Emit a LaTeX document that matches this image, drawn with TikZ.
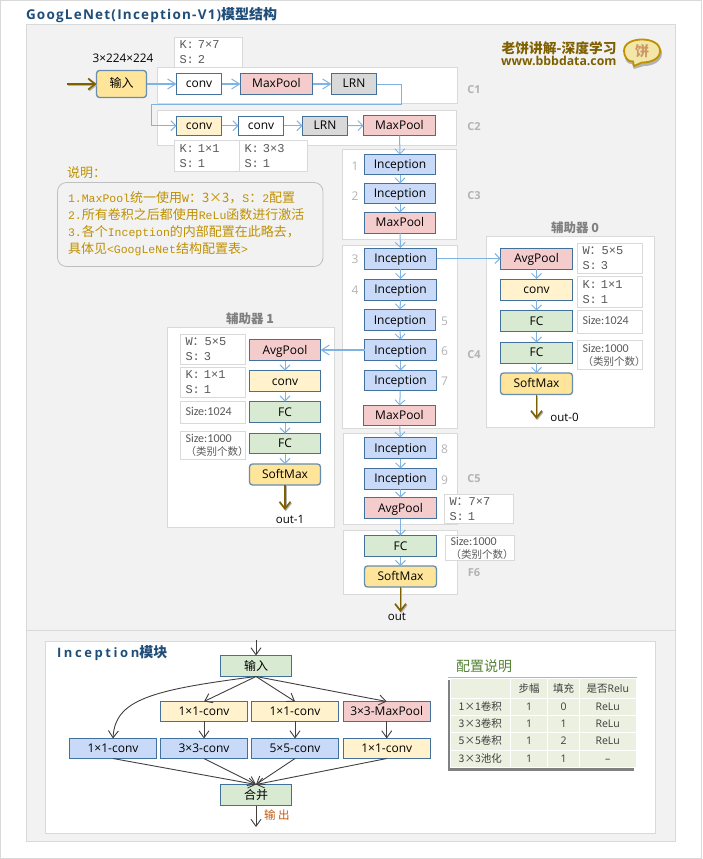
\documentclass[tikz,border=0pt]{standalone}
\usepackage{fontspec}
\usetikzlibrary{arrows.meta,calc}
\setmainfont{Open Sans}
\newfontfamily\cjk{Noto Sans CJK SC}
\newfontfamily\mon{Liberation Mono}
\newfontfamily\crl{Carlito}
\newfontfamily\ttl[LetterSpace=9]{Open Sans}
\newfontfamily\ttlb[LetterSpace=20]{Open Sans}
\newcommand{\fz}[1]{\fontsize{#1}{#1}\selectfont}
\newcommand{\fzb}[2]{\fontsize{#1}{#2}\selectfont}
\newcommand{\bx}[7]{%
  \pgfmathsetmacro\bxw{#5-#3}\pgfmathsetmacro\bxh{#6-#4}%
  \pgfmathsetmacro\bxt{#5-#3-10}%
  \pgfmathsetmacro\bxx{(#3+#5)/2}\pgfmathsetmacro\bxy{(#4+#6)/2}%
  \node[#2,minimum width=\bxw pt,minimum height=\bxh pt] (#1) at (\bxx,\bxy) {#7};}
\definecolor{bord}{HTML}{41719C}
\definecolor{lineb}{HTML}{7FB3E3}
\definecolor{pan}{HTML}{D9D9D9}
\definecolor{bgg}{HTML}{F2F2F2}
\definecolor{brown}{HTML}{7F6000}
\definecolor{gold}{HTML}{BF9000}
\definecolor{navy}{HTML}{1F4E79}
\definecolor{ptxt}{HTML}{595959}
\definecolor{clab}{HTML}{B3B3B3}
\definecolor{dk}{HTML}{404040}
\definecolor{ffy}{HTML}{FFF2CC}
\definecolor{ffp}{HTML}{F4CCCC}
\definecolor{ffg}{HTML}{D9EAD3}
\definecolor{ffb}{HTML}{C9DAF8}
\definecolor{ffd}{HTML}{D9D9D9}
\definecolor{ffs}{HTML}{FFE599}
\definecolor{tcf}{HTML}{EBF0E0}
\definecolor{orng}{HTML}{C55A11}
\definecolor{grn}{HTML}{548235}
\definecolor{ffl}{HTML}{F2E6A8}
\definecolor{cakec}{HTML}{CC9966}
\tikzset{
 base/.style={inner sep=0pt,outer sep=0pt},
 panel/.style={base,draw=pan,fill=white,line width=.8pt},
 bgpanel/.style={base,draw=pan,fill=bgg,line width=.8pt},
 blk/.style={base,draw=bord,line width=.9pt,text=black,font=\fz{12},text height=10pt,text depth=2pt},
 wbk/.style={blk,fill=white},
 ybk/.style={blk,fill=ffy},
 pbk/.style={blk,fill=ffp},
 gbk/.style={blk,fill=ffg},
 bbk/.style={blk,fill=ffb},
 dbk/.style={blk,fill=ffd},
 sbk/.style={blk,fill=ffs,rounded corners=3pt,line width=1.3pt,draw=bord!80},
 kbox/.style={base,draw=pan,fill=white,line width=.8pt,align=left,text width=\bxt pt,text=ptxt,font=\mon\fzb{12}{13},execute at begin node={\vspace*{2pt}}},
 sbox/.style={kbox,font=\crl\fzb{12}{11},execute at begin node={}},
 lab/.style={base,text=clab,font=\bfseries\fz{11}},
 lnum/.style={base,text=clab,font=\fz{12}},
 conn/.style={draw=lineb,line width=1pt,-{Straight Barb[length=5pt,width=10pt,line width=.9pt]}},
 conb/.style={conn,line width=1.4pt,-{Straight Barb[length=8pt,width=10pt,line width=1pt]}},
 heavy/.style={draw=brown,line width=1.6pt,-{Straight Barb[length=7pt,width=11pt,line width=1.6pt]},
   preaction={draw=black!30,line width=1.6pt,transform canvas={xshift=.8pt,yshift=-1.2pt}}},
 dkc/.style={draw=dk,line width=.9pt,-{Straight Barb[length=7pt,width=10pt,line width=.9pt]}},
 tcell/.style={base,fill=tcf,draw=white,line width=.8pt,text=ptxt!70!black,font=\fz{10.5},text height=9pt,text depth=2pt},
}
\begin{document}
\begin{tikzpicture}[x=1pt,y=-1pt]
\path[use as bounding box] (0,0) rectangle (702,859);
\bx{frame}{base,draw=pan,fill=white,line width=1pt}{.5}{.5}{701.5}{858}{}
\bx{upper}{bgpanel}{26}{24.5}{675.5}{630.5}{}
\bx{lower}{bgpanel}{26}{630.5}{675.5}{841.5}{}
\node[base,anchor=west,text=navy,font=\ttl\bfseries\fz{13.5}] (title) at (26,15) {GoogLeNet(Inception-V1){\cjk\bfseries\fz{14}模型结构}};
% stage panels
\bx{pc1}{panel}{157.5}{67.5}{457.5}{103.5}{}
\bx{pc2}{panel}{157.5}{110.5}{456.5}{145.5}{}
\bx{pc3}{panel}{342.5}{149.5}{456.5}{239.5}{}
\bx{pc4}{panel}{342.5}{245.5}{457.5}{428.5}{}
\bx{pc5}{panel}{343.5}{433.5}{457.5}{524.5}{}
\bx{pf6}{panel}{343.5}{530.5}{457.5}{594.5}{}
\bx{pa0}{panel}{486.5}{236.5}{654.5}{427.5}{}
\bx{pa1}{panel}{167.5}{327.5}{334}{527.5}{}
% parameter boxes
\bx{k77}{kbox}{174.5}{37.5}{242.5}{67.5}{K: 7×7\\S: 2}
\bx{k11}{kbox}{174.5}{140.5}{239.5}{171.5}{K: 1×1\\S: 1}
\bx{k33}{kbox}{239.5}{140.5}{307.5}{171.5}{K: 3×3\\S: 1}
\bx{w77}{kbox}{444.5}{494.5}{513.5}{523.5}{W{\cjk ：}7×7\\S: 1}
\bx{sf6}{sbox}{445.5}{535.5}{514.5}{560.5}{Size:1000\\{\cjk\fz{10.5}（类别个数）}}
\bx{a1w}{kbox}{180.5}{334.5}{245.5}{364.5}{W{\cjk ：}5×5\\S: 3}
\bx{a1k}{kbox}{180.5}{367.5}{245.5}{397.5}{K: 1×1\\S: 1}
\bx{a1s}{sbox}{180.5}{401.5}{245.5}{423.5}{Size:1024}
\bx{a1t}{sbox}{180.5}{431.5}{245.5}{459.5}{Size:1000\\{\cjk\fz{10.5}（类别个数）}}
\bx{a0w}{kbox}{577.5}{243.5}{642.5}{273.5}{W{\cjk ：}5×5\\S: 3}
\bx{a0k}{kbox}{577.5}{276.5}{642.5}{307}{K: 1×1\\S: 1}
\bx{a0s}{sbox}{577.5}{310.5}{642.5}{333}{Size:1024}
\bx{a0t}{sbox}{577.5}{340.5}{642.5}{369.5}{Size:1000\\{\cjk\fz{10.5}（类别个数）}}
% main blocks
\bx{in}{sbk}{96.5}{70.5}{146.5}{97.5}{\cjk 输入}
\node[base,font=\fz{11.8}] (dims) at (123,58) {3×224×224};
\coordinate (instart) at (67,84);
\bx{c1a}{wbk}{176.5}{73.5}{221.5}{94.5}{conv}
\bx{c1b}{pbk}{240.5}{73.5}{312.5}{94.5}{MaxPool}
\bx{c1c}{dbk}{331.5}{73.5}{376.5}{94.5}{LRN}
\bx{c2a}{ybk}{176.5}{116}{221.5}{135.5}{conv}
\bx{c2b}{wbk}{238.5}{116}{283.5}{135.5}{conv}
\bx{c2c}{dbk}{302.5}{116}{347.5}{135.5}{LRN}
\bx{c2d}{pbk}{363.5}{115.5}{435.5}{135.5}{MaxPool}
\bx{i1}{bbk}{364.5}{154.5}{435.5}{174.5}{Inception}
\bx{i2}{bbk}{364.5}{183.5}{435.5}{203.5}{Inception}
\bx{m3}{pbk}{364.5}{212.5}{435.5}{233}{MaxPool}
\bx{i3}{bbk}{364.5}{248}{436.5}{269}{Inception}
\bx{i4}{bbk}{364.5}{279}{436.5}{300}{Inception}
\bx{i5}{bbk}{364.5}{309.5}{435.5}{330.5}{Inception}
\bx{i6}{bbk}{364.5}{339.5}{436.5}{360.5}{Inception}
\bx{i7}{bbk}{364.5}{370.5}{436.5}{390.5}{Inception}
\bx{m4}{pbk}{363.5}{405.5}{435.5}{425.5}{MaxPool}
\bx{i8}{bbk}{364.5}{437.5}{436.5}{458.5}{Inception}
\bx{i9}{bbk}{364.5}{468.5}{436.5}{489}{Inception}
\bx{av}{pbk}{364.5}{497.5}{436.5}{518.5}{AvgPool}
\bx{fc}{gbk}{364.5}{535.5}{436.5}{556.5}{FC}
\bx{sm}{sbk}{364.5}{566}{436.5}{587}{SoftMax}
\node[base,font=\fz{11.5}] (out) at (397,617) {out};
% aux 0
\bx{a0a}{pbk}{500.5}{248}{572.5}{269}{AvgPool}
\bx{a0b}{ybk}{500.5}{279}{572.5}{300}{conv}
\bx{a0c}{gbk}{500.5}{310.5}{572.5}{331.5}{FC}
\bx{a0d}{gbk}{500.5}{342.5}{572.5}{363}{FC}
\bx{a0e}{sbk}{500.5}{373}{572.5}{394.5}{SoftMax}
\node[base,font=\fz{11.5}] (o0) at (564.5,417) {out-0};
% aux 1
\bx{a1a}{pbk}{249.5}{339.5}{320.5}{360.5}{AvgPool}
\bx{a1b}{ybk}{249.5}{370.5}{320.5}{391.5}{conv}
\bx{a1c}{gbk}{249.5}{401.5}{320.5}{422.5}{FC}
\bx{a1d}{gbk}{249.5}{433.5}{320.5}{453.5}{FC}
\bx{a1e}{sbk}{249.5}{464}{320.5}{485}{SoftMax}
\node[base,font=\fz{11.5}] (o1) at (290,519) {out-1};
% connectors
\draw[heavy] (instart) -- (in.west|-instart);
\draw[conb] (in.east|-c1a) -- (c1a.west);
\draw[conb] (c1a) -- (c1b);
\draw[conb] (c1b) -- (c1c);
\draw[conn] (c1c.east) -| (401.5,104.5) -| (151,125.75) -- (c2a.west);
\draw[conn] (c2a) -- (c2b);
\draw[conn] (c2b) -- (c2c);
\draw[conn] (c2c.east) -- (c2d.west);
\draw[conn] (c2d) -- (i1);
\draw[conn] (i1) -- (i2);
\draw[conn] (i2) -- (m3);
\draw[conn] (m3) -- (i3);
\draw[conn] (i3) -- (i4);
\draw[conn] (i4) -- (i5);
\draw[conn] (i5) -- (i6);
\draw[conn] (i6) -- (i7);
\draw[conn] (i7) -- (m4);
\draw[conn] (m4) -- (i8);
\draw[conn] (i8) -- (i9);
\draw[conn] (i9) -- (av);
\draw[conn] (av) -- (fc);
\draw[conn] (fc) -- (sm);
\draw[conn] (i3.east) -- (a0a.west);
\draw[conn] (a0a) -- (a0b);
\draw[conn] (a0b) -- (a0c);
\draw[conn] (a0c) -- (a0d);
\draw[conn] (a0d) -- (a0e);
\draw[conb] (i6.west) -- (a1a.east);
\draw[conn] (a1a) -- (a1b);
\draw[conn] (a1b) -- (a1c);
\draw[conn] (a1c) -- (a1d);
\draw[conn] (a1d) -- (a1e);
\coordinate (oe) at (400.5,612);
\coordinate (oe0) at (536.5,419);
\coordinate (oe1) at (285,510);
\draw[heavy] (sm.south) -- (oe);
\draw[heavy] (a0e.south) -- (oe0);
\draw[heavy] (a1e.south) -- (oe1);
% stage labels
\node[lab] (lc1) at (474,89.5) {C1};
\node[lab] (lc2) at (474,127) {C2};
\node[lab] (lc3) at (474,196) {C3};
\node[lab] (lc4) at (474,355) {C4};
\node[lab] (lc5) at (474,479) {C5};
\node[lab] (lf6) at (474,573) {F6};
\node[lnum] (n1) at (355,166) {1};
\node[lnum] (n2) at (355,196) {2};
\node[lnum] (n3) at (355,259) {3};
\node[lnum] (n4) at (355,290) {4};
\node[lnum] (n5) at (444.5,321) {5};
\node[lnum] (n6) at (444.5,351) {6};
\node[lnum] (n7) at (444.5,381) {7};
\node[lnum] (n8) at (444.5,449) {8};
\node[lnum] (n9) at (444.5,480) {9};
\node[base,text=black!50,font=\cjk\bfseries\fz{12.5}] (t0) at (575,228) {辅助器 0};
\node[base,text=black!50,font=\cjk\bfseries\fz{12.5}] (t1) at (250,319) {辅助器 1};
% note
\node[base,text=gold,font=\cjk\fz{13},anchor=west] (nt) at (67,172.5) {说明：};
\bx{note}{base,draw=black!25,fill=bgg,line width=.8pt,rounded corners=9pt}{57.5}{182.5}{323}{266.5}{}
\begin{scope}[every node/.style={base,anchor=west,text=gold,font=\mon\fz{11.5}}]
\node (n1l) at (68,197.5) {1.MaxPool{\cjk\fz{13}统一使用}W{\cjk\fz{13}：3×3，}S{\cjk\fz{13}：}2{\cjk\fz{13}配置}};
\node (n2l) at (68,214.5) {2.{\cjk\fz{13}所有卷积之后都使用}ReLu{\cjk\fz{13}函数进行激活}};
\node (n3l) at (68,232.5) {3.{\cjk\fz{13}各个}Inception{\cjk\fz{13}的内部配置在此略去，}};
\node (n4l) at (68,249.5) {{\cjk\fz{13}具体见}<GoogLeNet{\cjk\fz{13}结构配置表}>};
\end{scope}
% logo
\node[base,anchor=east,text=brown,font=\cjk\bfseries\fz{13.7}] (lg1) at (616.5,48) {老饼讲解-深度学习};
\node[base,anchor=east,text=brown,font=\bfseries\fz{12.3}] (lg2) at (616.5,61) {www.bbbdata.com};
\path[fill=black!30] (625,55) to[out=-60,in=180] (644,43) to[out=0,in=90] (662,53) to[out=-90,in=0] (644,66) to (634,69) to (632,64) to[out=190,in=-100] (625,55);
\path[draw=gold,line width=1.8pt,fill=ffl] (624,51) to[out=90,in=180] (642,39.5) to[out=0,in=90] (660,51) to[out=-90,in=0] (642,62.5) -- (634,66) -- (633,61.5) to[out=190,in=-90] (624,51) -- cycle;
\node[base,text=cakec,font=\cjk\bfseries\fz{14}] (lg3) at (642,51) {饼};
% inception panel
\bx{ipan}{panel}{45.5}{641}{655.5}{833}{}
\node[base,anchor=west,text=navy,font=\ttlb\bfseries\fz{13}] (ititle) at (57,653) {Inception{\cjk\bfseries\fz{14}模块}};
\coordinate (itop) at (256,640);
\coordinate (ibot) at (256,827);
\bx{ii}{gbk}{220.5}{655.5}{291.5}{676.5}{\cjk 输入}
\bx{r1b}{ybk}{160.5}{701.5}{247.5}{721}{1×1-conv}
\bx{r1c}{ybk}{251.5}{701.5}{338.5}{721}{1×1-conv}
\bx{r1d}{pbk}{343.5}{701.5}{430}{721}{3×3-MaxPool}
\bx{r2a}{bbk}{69.5}{738.5}{156.5}{758.5}{1×1-conv}
\bx{r2b}{bbk}{160.5}{738.5}{247.5}{758.5}{3×3-conv}
\bx{r2c}{bbk}{251.5}{738.5}{338.5}{758.5}{5×5-conv}
\bx{r2d}{ybk}{343.5}{738.5}{430}{758.5}{1×1-conv}
\bx{mg}{gbk}{220.5}{784.5}{291.5}{805.5}{\cjk 合并}
\draw[dkc] (itop) -- (ii.north);
\draw[dkc] (ii.south) -- (r1b.north);
\draw[dkc] (ii.south) -- (r1c.north);
\draw[dkc] (ii.south) -- (r1d.north);
\draw[dkc] (ii.south) .. controls (150,690) and (115,700) .. (r2a.north);
\draw[dkc] (r1b) -- (r2b);
\draw[dkc] (r1c) -- (r2c);
\draw[dkc] (r1d) -- (r2d);
\draw[dkc] (r2a.south) -- (mg.north);
\draw[dkc] (r2b.south) -- (mg.north);
\draw[dkc] (r2c.south) -- (mg.north);
\draw[dkc] (r2d.south) -- (mg.north);
\draw[dkc] (mg.south) -- (ibot);
\node[base,anchor=west,text=orng,font=\cjk\fz{11.5}] (oc) at (264,815) {输 出};
% config table
\node[base,anchor=west,text=grn,font=\cjk\fz{14}] (cfg) at (456,666) {配置说明};
\coordinate (cl) at (448,677.5);
\coordinate (cr) at (637,677.5);
\draw[draw=grn!50,line width=.8pt] (cl) -- (cr);
\bx{tsh}{base,fill=black!50}{447.5}{680}{634}{770.5}{}
\bx{c00}{tcell}{450}{678.5}{510.5}{698.5}{}
\bx{c01}{tcell}{510.5}{678.5}{547.5}{698.5}{\cjk 步幅}
\bx{c02}{tcell}{547.5}{678.5}{579.5}{698.5}{\cjk 填充}
\bx{c03}{tcell}{579.5}{678.5}{636}{698.5}{{\cjk 是否}Relu}
\bx{c10}{tcell}{450}{698.5}{510.5}{715.5}{{\cjk 1×1卷积}}
\bx{c11}{tcell}{510.5}{698.5}{547.5}{715.5}{1}
\bx{c12}{tcell}{547.5}{698.5}{579.5}{715.5}{0}
\bx{c13}{tcell}{579.5}{698.5}{636}{715.5}{ReLu}
\bx{c20}{tcell}{450}{715.5}{510.5}{732.5}{{\cjk 3×3卷积}}
\bx{c21}{tcell}{510.5}{715.5}{547.5}{732.5}{1}
\bx{c22}{tcell}{547.5}{715.5}{579.5}{732.5}{1}
\bx{c23}{tcell}{579.5}{715.5}{636}{732.5}{ReLu}
\bx{c30}{tcell}{450}{732.5}{510.5}{750}{{\cjk 5×5卷积}}
\bx{c31}{tcell}{510.5}{732.5}{547.5}{750}{1}
\bx{c32}{tcell}{547.5}{732.5}{579.5}{750}{2}
\bx{c33}{tcell}{579.5}{732.5}{636}{750}{ReLu}
\bx{c40}{tcell}{450}{750}{510.5}{767.5}{{\cjk 3×3池化}}
\bx{c41}{tcell}{510.5}{750}{547.5}{767.5}{1}
\bx{c42}{tcell}{547.5}{750}{579.5}{767.5}{1}
\bx{c43}{tcell}{579.5}{750}{636}{767.5}{--}
\end{tikzpicture}
\end{document}
